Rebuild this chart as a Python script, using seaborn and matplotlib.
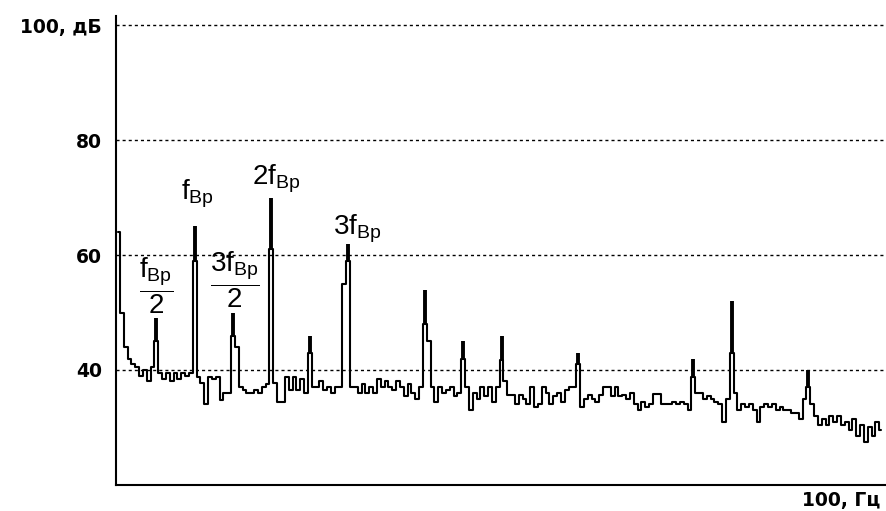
import numpy as np
import pandas as pd
import matplotlib
matplotlib.use("Agg")
import matplotlib.pyplot as plt
import seaborn as sns

# spectrum, 0.5 Hz bins (dB)
levels = [
    64, 50, 44, 42, 41, 40.5, 39, 40, 38, 40.5,            # 0 - 4.5 Hz
    45, 39.5, 38.5, 39.5, 38, 39.5, 38.5, 39.5, 39, 39.5,  # 5 - 9.5
    59, 38.8, 37.7, 34, 38.8, 38.5, 38.8, 34.8, 36, 36,    # 10 - 14.5
    46, 44, 37, 36.5, 36, 36, 36.5, 36, 37, 37.5,          # 15 - 19.5
    61, 37.7, 34.4, 34.4, 38.8, 36.5, 38.8, 36.5, 38.5, 36,  # 20 - 24.5
    43, 37, 37, 38, 36.5, 37, 36, 37, 37, 55,              # 25 - 29.5
    59, 37, 37, 36, 37.5, 36, 37, 36, 38.5, 37,            # 30 - 34.5
    38, 37, 36.5, 38, 37, 35.5, 37.5, 36, 35, 37,          # 35 - 39.5
    48, 45, 37, 34.5, 37, 36, 36.5, 37, 35.5, 36,          # 40 - 44.5
    42, 37, 33, 36, 35, 37, 35.5, 37, 34.5, 37,            # 45 - 49.5
    41.7, 38, 35.6, 35.6, 34, 35.6, 35, 34, 37, 33.5,      # 50 - 54.5
    34, 37, 36, 34, 35.5, 36, 34.5, 36.5, 37, 37,          # 55 - 59.5
    41, 33.5, 35, 35.6, 35, 34.4, 35.6, 37, 37, 35.5,      # 60 - 64.5
    37, 35.5, 35.6, 35, 36, 34, 33, 34.5, 33.5, 34,        # 65 - 69.5
    35.8, 35.8, 34, 34, 34, 34.4, 34, 34.4, 34, 33,        # 70 - 74.5
    38.8, 36, 36, 35, 35.5, 35, 34.5, 34, 31, 35,          # 75 - 79.5
    43, 36, 33, 34, 33.5, 34, 33, 31, 33.5, 34,            # 80 - 84.5
    33.5, 34, 33, 33.5, 33, 33, 32.5, 32.5, 31.5, 35,      # 85 - 89.5
    37, 34, 32, 30.5, 31.5, 30.5, 32, 31, 32, 30.5,        # 90 - 94.5
    31, 29.5, 31.5, 28.5, 30.5, 27.5, 30, 28.5, 31, 29.5,  # 95 - 99.5
]
freq_hz = [i * 0.5 for i in range(len(levels))]

# narrow peak tips on top of the harmonic bins
peak_hz = [5, 10, 15, 20, 25, 30, 40, 45, 50, 60, 75, 80, 90]
peak_top = [49, 65, 50, 70, 46, 62, 54, 45, 46, 43, 42, 52, 40]

ytick_vals = [40, 60, 80, 100]
ytick_labels = ["40", "60", "80", "100, дБ"]
x_label = "100, Гц"

# harmonic labels: (text, x Hz, y dB)
labels = [
    (r"$\dfrac{\mathrm{f}_{\mathrm{Вр}}}{\mathrm{2}}$", 4.95, 54.6),
    (r"$\mathrm{f}_{\mathrm{Вр}}$", 10.3, 70.6),
    (r"$\dfrac{\mathrm{3f}_{\mathrm{Вр}}}{\mathrm{2}}$", 15.2, 55.6),
    (r"$\mathrm{2f}_{\mathrm{Вр}}$", 20.6, 73.2),
    (r"$\mathrm{3f}_{\mathrm{Вр}}$", 31.2, 64.5),
]

sns.set_style("white")
plt.rcParams["mathtext.fontset"] = "custom"
plt.rcParams["mathtext.rm"] = "Liberation Sans"
plt.rcParams["mathtext.it"] = "Liberation Sans"

df = pd.DataFrame({"freq": freq_hz, "level": levels})

fig = plt.figure(figsize=(8.87, 5.11), dpi=100)
ax = fig.add_axes([0.1308, 0.0509, 0.8692, 0.917])

sns.lineplot(data=df, x="freq", y="level", ax=ax, color="black",
             lw=1.5, drawstyle="steps-mid")

base = [levels[freq_hz.index(f)] for f in peak_hz]
ax.vlines(peak_hz, base, peak_top, color="black", lw=2.8)

ax.set_xlim(-0.26, 100.26)
ax.set_ylim(20, 101.5)

ax.set_yticks(ytick_vals)
ax.set_yticklabels(ytick_labels, fontsize=13.5, fontweight="bold", color="black")
ax.tick_params(axis="y", length=0, pad=10)
ax.set_xticks([])
ax.set_xlabel("")
ax.set_ylabel("")

for y in ytick_vals:
    ax.axhline(y, color="black", lw=1.0, ls=(0, (2.2, 2.2)), zorder=0)

for side in ["top", "right"]:
    ax.spines[side].set_visible(False)
for side in ["left", "bottom"]:
    ax.spines[side].set_color("black")
    ax.spines[side].set_linewidth(1.5)

for txt, x, y in labels:
    ax.text(x, y, txt, ha="center", va="center", fontsize=20, color="black")

ax.text(0.992, -0.012, x_label, transform=ax.transAxes, ha="right", va="top",
        fontsize=13.5, fontweight="bold", color="black")

fig.savefig("out.png", dpi=100)
